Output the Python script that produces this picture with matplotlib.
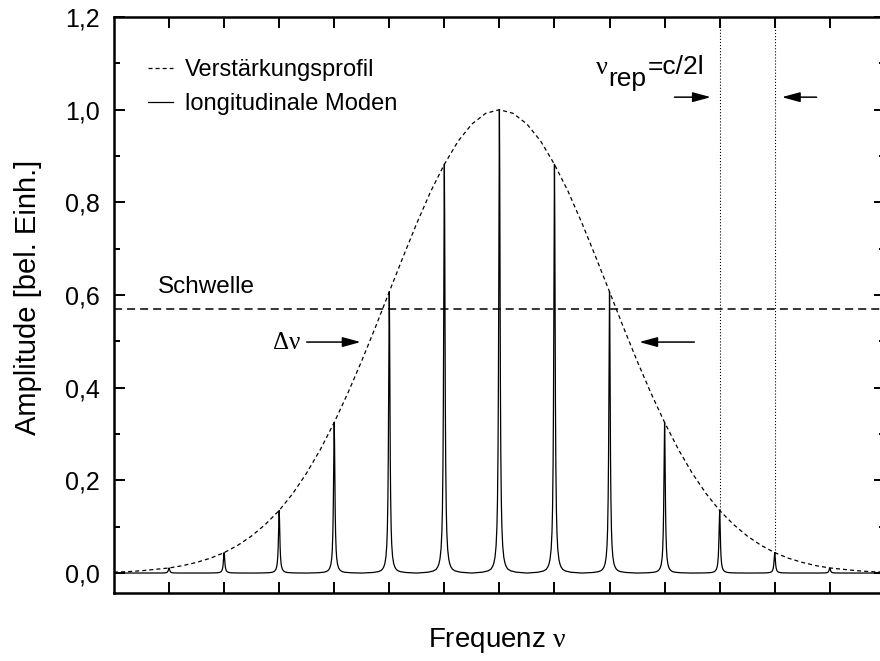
"""
Laser gain profile with longitudinal modes (Verstärkungsprofil / Moden).
"""

import numpy as np
import matplotlib
matplotlib.use("Agg")
import matplotlib.pyplot as plt
from matplotlib.ticker import MultipleLocator

plt.rcParams['font.family'] = ['Liberation Sans', 'DejaVu Sans']
plt.rcParams['mathtext.fontset'] = 'custom'
plt.rcParams['mathtext.rm'] = 'Liberation Serif'
plt.rcParams['mathtext.it'] = 'Liberation Serif'
plt.rcParams['lines.scale_dashes'] = False

# -----------------------------------------------------------------------------
# DATA
# -----------------------------------------------------------------------------

mode_pos = [-6, -5, -4, -3, -2, -1, 0, 1, 2, 3, 4, 5, 6]
mode_height = [0.011, 0.044, 0.135, 0.325, 0.607, 0.882, 1.0,
               0.882, 0.607, 0.325, 0.135, 0.044, 0.011]

# gain profile, sampled every 0.25 mode spacings from -7 to 7
env_x = np.arange(-7.0, 7.01, 0.25)
env_y = [0.002, 0.003, 0.005, 0.008, 0.011, 0.016, 0.023, 0.032,
         0.044, 0.060, 0.080, 0.105, 0.135, 0.172, 0.216, 0.267,
         0.325, 0.389, 0.458, 0.531, 0.607, 0.682, 0.755, 0.823,
         0.882, 0.932, 0.969, 0.992, 1.000, 0.992, 0.969, 0.932,
         0.882, 0.823, 0.755, 0.682, 0.607, 0.531, 0.458, 0.389,
         0.325, 0.267, 0.216, 0.172, 0.135, 0.105, 0.080, 0.060,
         0.044, 0.032, 0.023, 0.016, 0.011, 0.008, 0.005, 0.003, 0.002]

# shape of one mode peak (offset from mode centre, fraction of peak height)
profile_dx = [-0.5, -0.3, -0.2, -0.15, -0.12, -0.1, -0.08, -0.06, -0.045,
              -0.035, -0.025, -0.018, -0.012, -0.006, 0.0,
              0.006, 0.012, 0.018, 0.025, 0.035, 0.045, 0.06, 0.08,
              0.1, 0.12, 0.15, 0.2, 0.3, 0.5]
profile_frac = [0.0, 0.002, 0.005, 0.009, 0.015, 0.022, 0.034, 0.059, 0.10,
                0.155, 0.265, 0.41, 0.61, 0.86, 1.0,
                0.86, 0.61, 0.41, 0.265, 0.155, 0.10, 0.059, 0.034,
                0.022, 0.015, 0.009, 0.005, 0.002, 0.0]

threshold = 0.57
rep_modes = [4, 5]     # modes marked by the dotted lines

y_ticks = [0.0, 0.2, 0.4, 0.6, 0.8, 1.0, 1.2]
y_ticklabels = ["0,0", "0,2", "0,4", "0,6", "0,8", "1,0", "1,2"]

# -----------------------------------------------------------------------------
# BUILD MODE CURVE
# -----------------------------------------------------------------------------

mx, my = [-7.0], [0.0]
for p, h in zip(mode_pos, mode_height):
    for d, f in zip(profile_dx, profile_frac):
        mx.append(p + d)
        my.append(h * f)
mx.append(7.0)
my.append(0.0)

# -----------------------------------------------------------------------------
# PLOT
# -----------------------------------------------------------------------------

fig = plt.figure(figsize=(8.8, 6.61), dpi=100)
ax = fig.add_axes([0.1295, 0.1029, 0.876, 0.8714])

env_line, = ax.plot(env_x, env_y, color='k', lw=0.9,
                    linestyle=(0, (2.9, 2.2)), label="Verstärkungsprofil")
mode_line, = ax.plot(mx, my, color='k', lw=0.9, label="longitudinale Moden")
ax.axhline(threshold, color='k', lw=1.1, linestyle=(0, (5.8, 3.6)))

for m in rep_modes:
    h = mode_height[mode_pos.index(m)]
    ax.vlines(m, h, 1.2, color='k', lw=0.8, linestyle=(0, (0.8, 1.4)))

arrow = dict(arrowstyle='-|>,head_length=1.1,head_width=0.3', lw=1.1,
             color='k', shrinkA=0, shrinkB=0)
ax.annotate('', xy=(-2.52, 0.4985), xytext=(-3.50, 0.4985), arrowprops=arrow)
ax.annotate('', xy=(2.54, 0.4985), xytext=(3.54, 0.4985), arrowprops=arrow)
ax.annotate('', xy=(3.84, 1.027), xytext=(3.18, 1.027), arrowprops=arrow)
ax.annotate('', xy=(5.13, 1.027), xytext=(5.76, 1.027), arrowprops=arrow)

ax.text(-6.2, 0.604, "Schwelle", fontsize=17.5, ha='left', va='baseline')
ax.text(-3.60, 0.4985, r"$\Delta\nu$", fontsize=18, ha='right', va='center')
ax.text(1.734, 1.078, r"$\nu$", fontsize=19, ha='left', va='baseline')
ax.text(1.97, 1.051, "rep", fontsize=19, ha='left', va='baseline')
ax.text(2.696, 1.078, "=c/2l", fontsize=19, ha='left', va='baseline')

ax.set_xlim(-7, 7)
ax.set_ylim(-0.043, 1.2)
ax.set_xticks(mode_pos)
ax.set_xticklabels([])
ax.set_yticks(y_ticks)
ax.set_yticklabels(y_ticklabels)
ax.yaxis.set_minor_locator(MultipleLocator(0.1))

ax.tick_params(which='both', direction='in', top=True, right=True,
               labelsize=18, width=1.4, pad=10)
ax.tick_params(which='major', length=8)
ax.tick_params(which='minor', length=4.3)
for s in ax.spines.values():
    s.set_linewidth(1.8)

ax.set_xlabel(r"Frequenz $\nu$", fontsize=20, va='center')
ax.xaxis.set_label_coords(0.498, (593 - 641) / 576)
ax.set_ylabel("Amplitude [bel. Einh.]", fontsize=21, va='center')
ax.yaxis.set_label_coords((28 - 114) / 771, 0.513)

ax.legend(handles=[env_line, mode_line], loc='upper left',
          bbox_to_anchor=(0.044, 0.927), frameon=False, fontsize=17,
          handlelength=1.06, handletextpad=0.5, labelspacing=0.5,
          borderpad=0, borderaxespad=0)

fig.savefig("out.png", dpi=100)
